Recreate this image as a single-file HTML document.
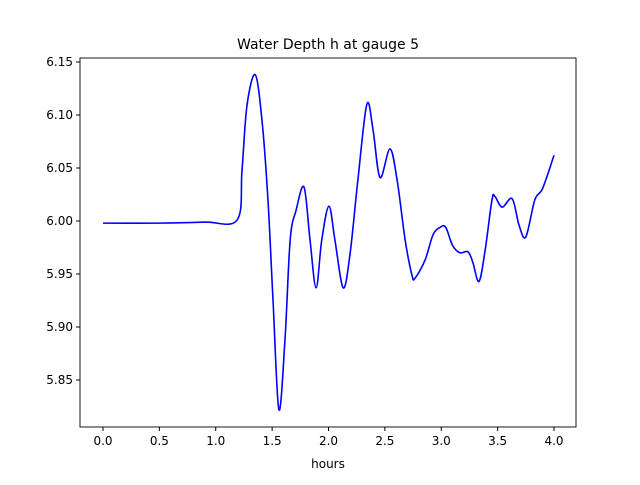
<!DOCTYPE html>
<html><head><meta charset="utf-8"><style>
body{margin:0;background:#fff}
text{font-family:"DejaVu Sans","Liberation Sans",sans-serif;fill:#000}
</style></head><body>
<svg id="c" width="640" height="480" xmlns="http://www.w3.org/2000/svg"></svg>
<script>
const times=[0,0.5,0.9,1.19,1.233,1.277,1.35,1.41,1.463,1.508,1.56,1.614,1.66,1.712,1.783,1.836,1.89,1.94,2.004,2.057,2.13,2.19,2.26,2.34,2.395,2.457,2.545,2.608,2.68,2.74,2.767,2.856,2.927,2.99,3.04,3.10,3.166,3.237,3.28,3.335,3.39,3.45,3.477,3.54,3.629,3.69,3.75,3.83,3.90,4.0];
const depths=[5.998,5.998,5.999,6.001,6.048,6.109,6.138,6.095,6.02,5.925,5.822,5.888,5.982,6.010,6.032,5.982,5.937,5.982,6.014,5.982,5.937,5.968,6.038,6.110,6.086,6.041,6.068,6.039,5.982,5.949,5.946,5.963,5.987,5.994,5.994,5.977,5.970,5.971,5.961,5.943,5.973,6.020,6.023,6.013,6.021,5.996,5.985,6.02,6.031,6.062];
const xTicks=[0,0.5,1,1.5,2,2.5,3,3.5,4];
const yTicks=[5.85,5.90,5.95,6.00,6.05,6.10,6.15];
const svg=document.getElementById('c');const NS='http://www.w3.org/2000/svg';
const L=80,R=576,T=58,B=427;
const X=t=>103+t*112.75;
const Y=v=>221-(v-6)*1060;
function mk(tag,a,p){const e=document.createElementNS(NS,tag);for(const k in a)e.setAttribute(k,a[k]);(p||svg).appendChild(e);return e;}
const t=mk('text',{x:328,y:49,'text-anchor':'middle','font-size':14});t.textContent='Water Depth h at gauge 5';


const pts=times.map((tt,i)=>[X(tt),Y(depths[i])]);
let d='M'+pts[0][0]+','+pts[0][1];
for(let i=0;i<pts.length-1;i++){const p0=pts[Math.max(0,i-1)],p1=pts[i],p2=pts[i+1],p3=pts[Math.min(pts.length-1,i+2)];
const c1=[p1[0]+(p2[0]-p0[0])/6,p1[1]+(p2[1]-p0[1])/6],c2=[p2[0]-(p3[0]-p1[0])/6,p2[1]-(p3[1]-p1[1])/6];
d+=` C${c1[0]},${c1[1]} ${c2[0]},${c2[1]} ${p2[0]},${p2[1]}`;}
const line=mk('path',{d:d,fill:'none',stroke:'#0000ff','stroke-width':1.6});


const fr=mk('rect',{x:L,y:T,width:R-L,height:B-T,fill:'none',stroke:'#000','stroke-width':0.9});


xTicks.forEach(v=>{const x=X(v);mk('line',{x1:x,x2:x,y1:B,y2:B+4,stroke:'#000'});
const tx=mk('text',{x:x,y:B+18,'text-anchor':'middle','font-size':12});tx.textContent=v.toFixed(1);

});
yTicks.forEach(v=>{const y=Y(v);mk('line',{x1:L-4,x2:L,y1:y,y2:y,stroke:'#000'});
const tx=mk('text',{x:L-7,y:y+4,'text-anchor':'end','font-size':12});tx.textContent=v.toFixed(2);

});
const xl=mk('text',{x:328,y:468,'text-anchor':'middle','font-size':12});xl.textContent='hours';


</script>
</body></html>
